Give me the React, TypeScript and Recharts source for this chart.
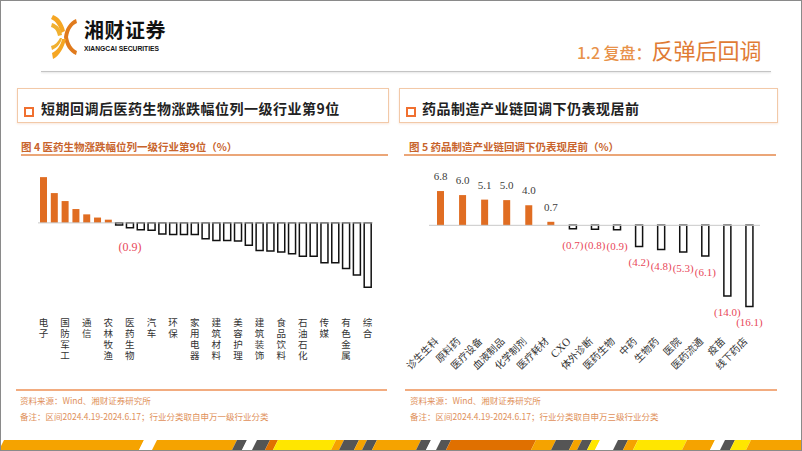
import React from "react";
import { BarChart, Bar, XAxis, YAxis, Cell, LabelList, ReferenceLine } from "recharts";

// 图4：申万一级行业涨跌幅（%），区间 2024.4.19-2024.6.17
const industries = [
  "电子", "公用事业", "国防军工", "银行", "通信", "交通运输", "农林牧渔", "非银金融",
  "医药生物", "基础化工", "汽车", "钢铁", "环保", "机械设备", "家用电器", "电力设备",
  "建筑材料", "轻工制造", "美容护理", "纺织服饰", "建筑装饰", "房地产", "食品饮料", "社会服务",
  "石油石化", "煤炭", "传媒", "商贸零售", "有色金属", "计算机", "综合",
];
const industryChange = [
  8.6, 5.6, 4.1, 2.6, 1.6, 1.0, 0.6, -0.4,
  -0.9, -1.3, -1.4, -2.1, -2.2, -2.2, -2.2, -3.0,
  -3.3, -3.3, -3.4, -4.2, -5.2, -5.3, -5.5, -5.8,
  -6.3, -6.3, -7.5, -7.5, -8.6, -9.8, -12.1,
];
const highlightIndustry = "医药生物";

// 图5：药品制造产业链（申万三级）涨跌幅（%）
const segments = [
  "诊生生科", "原料药", "医疗设备", "血液制品", "化学制剂", "医疗耗材", "CXO", "体外诊断",
  "医药生物", "中药", "生物药", "医院", "医药流通", "疫苗", "线下药店",
];
const segmentChange = [6.8, 6.0, 5.1, 5.0, 4.0, 0.7, -0.7, -0.8, -0.9, -4.2, -4.8, -5.3, -6.1, -14.0, -16.1];

const ORANGE = "#E06D22";
const RED = "#E8485A";
const CJK = "'Noto Sans CJK SC', sans-serif";
const SERIF = "'Liberation Serif', 'Times New Roman', serif";

const leftData = industries.map((name, i) => ({ name, value: industryChange[i] }));
const rightData = segments.map((name, i) => ({ name, value: segmentChange[i] }));

const fmt = (v: number) => (v < 0 ? `(${Math.abs(v).toFixed(1)})` : v.toFixed(1));

// category label written top-to-bottom
function VerticalTick(props: any) {
  const { x, y, payload } = props;
  return (
    <text
      x={x}
      y={y + 18}
      fontSize={9.5}
      fill="#333"
      fontFamily={CJK}
      letterSpacing={1.3}
      style={{ writingMode: "vertical-rl", textOrientation: "upright" } as React.CSSProperties}
    >
      {payload.value}
    </text>
  );
}

function SlantTick(props: any) {
  const { x, y, payload } = props;
  const isLatin = /^[A-Z]+$/.test(payload.value);
  const ax = x - 1;
  const ay = y + 23;
  return (
    <text
      x={ax}
      y={ay}
      textAnchor="end"
      fontSize={isLatin ? 11 : 10}
      fill="#333"
      fontFamily={isLatin ? SERIF : CJK}
      transform={`rotate(-45 ${ax} ${ay})`}
    >
      {payload.value}
    </text>
  );
}

function ValueLabel(props: any) {
  const { x, y, width, height, value } = props;
  const top = Math.min(y, y + height);
  const bottom = Math.max(y, y + height);
  const neg = value < 0;
  return (
    <text
      x={x + width / 2}
      y={neg ? bottom + 20 : top - 11}
      textAnchor="middle"
      fontSize={11}
      fill={neg ? RED : "#404040"}
      fontFamily={SERIF}
    >
      {fmt(value)}
    </text>
  );
}

function HighlightLabel(props: any) {
  const { x, y, width, height, value, index } = props;
  if (leftData[index]?.name !== highlightIndustry) return null;
  const bottom = Math.max(y, y + height);
  return (
    <text x={x + width / 2} y={bottom + 23} textAnchor="middle" fontSize={12} fill={RED} fontFamily={SERIF}>
      {fmt(value)}
    </text>
  );
}

function Logo() {
  return (
    <svg width={30} height={48} style={{ position: "absolute", left: 48, top: 12 }}>
      <path d="M4 2 C10 4 14 10 16 18 L12 20 C10 13 7 8 2 6 Z" fill="#F5A623" />
      <path d="M3 10 C9 12 12 16 13 22 L9 23 C8 18 6 15 2 14 Z" fill="#F0B030" />
      <path d="M27 6 C20 9 16 16 15 24 L19 24 C20 17 23 12 28 10 Z" fill="#E07A1C" />
      <path d="M15 24 C16 32 20 39 27 42 L28 38 C23 36 20 30 19 24 Z" fill="#E07A1C" />
      <path d="M13 26 C12 32 8 38 3 40 L4 46 C10 43 15 35 17 26 Z" fill="#F5A623" />
      <path d="M11 25 C9 29 6 32 2 33 L3 37 C8 35 12 30 13 25 Z" fill="#F0B030" />
    </svg>
  );
}

function Stripe() {
  // decorative band at the bottom of the slide
  const segs: [number, number, string][] = [
    [0, 140, "#F5A300"], [140, 153, "#FFFFFF"], [153, 233, "#F5A300"], [233, 243, "#555"],
    [243, 253, "#FFFFFF"], [253, 266, "#555"], [266, 274, "#E07000"], [274, 332, "#FFE600"],
    [332, 340, "#F5A300"], [340, 355, "#555"], [355, 363, "#F5A300"], [363, 373, "#555"],
    [373, 417, "#F5A300"], [417, 427, "#555"], [427, 437, "#FFFFFF"], [437, 447, "#555"],
    [447, 532, "#E07000"], [532, 552, "#F5A300"], [552, 570, "#555"], [570, 578, "#F5A300"],
    [578, 588, "#555"], [588, 596, "#FFE600"], [596, 614, "#FFFFFF"], [614, 624, "#555"],
    [624, 634, "#F5A300"], [634, 683, "#FFE600"], [683, 711, "#F5A300"], [711, 721, "#FFFFFF"],
    [721, 731, "#555"], [731, 747, "#FFE600"], [747, 810, "#F5A300"],
  ];
  return (
    <svg width={802} height={12} style={{ position: "absolute", left: 0, top: 439 }}>
      {segs.map(([a, b, c], i) => (
        <polygon key={i} points={`${a + 3},0 ${b + 3},0 ${b - 3},12 ${a - 3},12`} fill={c} />
      ))}
    </svg>
  );
}

const boxStyle: React.CSSProperties = {
  position: "absolute",
  top: 87,
  height: 35,
  border: "1px solid #F2C9A8",
  boxShadow: "0 1px 2px rgba(230,160,110,0.25)",
  background: "#fff",
  boxSizing: "border-box",
};

const squareStyle: React.CSSProperties = {
  position: "absolute",
  top: 18,
  width: 10,
  height: 10,
  border: "2.5px solid #F07030",
  boxSizing: "border-box",
};

const sectionText: React.CSSProperties = {
  position: "absolute",
  top: 9,
  fontFamily: CJK,
  fontWeight: 700,
  fontSize: 14,
  lineHeight: "20px",
  letterSpacing: 0.5,
  color: "#222",
  whiteSpace: "nowrap",
};

const figTitle: React.CSSProperties = {
  position: "absolute",
  top: 139,
  fontFamily: CJK,
  fontWeight: 700,
  fontSize: 10.5,
  lineHeight: "14px",
  color: "#C8642C",
  whiteSpace: "nowrap",
};

const noteText: React.CSSProperties = {
  position: "absolute",
  fontFamily: CJK,
  fontSize: 8.5,
  lineHeight: "12px",
  color: "#E0905A",
  whiteSpace: "nowrap",
};

export default function App() {
  return (
    <div
      style={{
        position: "absolute",
        left: 0,
        top: 0,
        width: 802,
        height: 451,
        background: "#fff",
        border: "1px solid #8a8a8a",
        boxSizing: "border-box",
        overflow: "hidden",
      }}
    >
      <Logo />
      <div style={{ position: "absolute", left: 83, top: 19, fontFamily: CJK, fontWeight: 700, fontSize: 20, lineHeight: "20px", color: "#111", letterSpacing: 0.5 }}>
        湘财证券
      </div>
      <div
        style={{
          position: "absolute",
          left: 83,
          top: 44,
          fontFamily: "'Liberation Sans', sans-serif",
          fontWeight: 700,
          fontSize: 8,
          lineHeight: "8px",
          color: "#111",
          transform: "scaleX(0.84)",
          transformOrigin: "left top",
          whiteSpace: "nowrap",
        }}
      >
        XIANGCAI SECURITIES
      </div>
      <div style={{ position: "absolute", left: 576, top: 35, fontFamily: CJK, color: "#E8924A", whiteSpace: "nowrap", lineHeight: "26px" }}>
        <span style={{ fontSize: 16, fontWeight: 500 }}>1.2 复盘：</span>
        <span style={{ fontSize: 22, color: "#E07B35" }}>反弹后回调</span>
      </div>
      <div style={{ position: "absolute", left: 40, top: 70, width: 730, height: 1, background: "#c4c4c4", boxShadow: "0 1px 2px rgba(0,0,0,0.15)" }} />

      <div style={{ ...boxStyle, left: 16, width: 372 }}>
        <div style={{ ...squareStyle, left: 6 }} />
        <div style={{ ...sectionText, left: 23 }}>短期回调后医药生物涨跌幅位列一级行业第9位</div>
      </div>
      <div style={{ ...boxStyle, left: 398, width: 379 }}>
        <div style={{ ...squareStyle, left: 6 }} />
        <div style={{ ...sectionText, left: 22 }}>药品制造产业链回调下仍表现居前</div>
      </div>

      <div style={{ ...figTitle, left: 20 }}>图 4 医药生物涨跌幅位列一级行业第9位（%）</div>
      <div style={{ ...figTitle, left: 408 }}>图 5 药品制造产业链回调下仍表现居前（%）</div>
      <div style={{ position: "absolute", left: 20, top: 153, width: 367, height: 1.5, background: "#EBA678" }} />
      <div style={{ position: "absolute", left: 403, top: 153, width: 372, height: 1.5, background: "#EBA678" }} />

      <div style={{ position: "absolute", left: 0, top: 160 }}>
        <BarChart width={400} height={220} data={leftData} margin={{ top: 14, right: 28, left: 37, bottom: 0 }} barSize={7}>
          <YAxis hide domain={[-13, 9]} />
          <XAxis dataKey="name" interval={1} axisLine={false} tickLine={false} height={89} tick={<VerticalTick />} />
          <ReferenceLine y={0} stroke="#c8c8c8" strokeWidth={1} />
          <Bar dataKey="value" isAnimationActive={false}>
            {leftData.map((d, i) => (
              <Cell
                key={i}
                fill={d.value >= 0 ? ORANGE : "#fff"}
                stroke={d.value >= 0 ? "none" : "#111"}
                strokeWidth={d.value >= 0 ? 0 : 1.5}
              />
            ))}
            <LabelList dataKey="value" content={<HighlightLabel />} />
          </Bar>
        </BarChart>
      </div>

      <div style={{ position: "absolute", left: 400, top: 160 }}>
        <BarChart width={402} height={220} data={rightData} margin={{ top: 24, right: 43, left: 28, bottom: 0 }} barSize={7}>
          <YAxis hide domain={[-17, 8]} />
          <XAxis dataKey="name" interval={0} axisLine={false} tickLine={false} height={70} tick={<SlantTick />} />
          <ReferenceLine y={0} stroke="#c8c8c8" strokeWidth={1} />
          <Bar dataKey="value" isAnimationActive={false}>
            {rightData.map((d, i) => (
              <Cell
                key={i}
                fill={d.value >= 0 ? ORANGE : "#fff"}
                stroke={d.value >= 0 ? "none" : "#111"}
                strokeWidth={d.value >= 0 ? 0 : 1.5}
              />
            ))}
            <LabelList dataKey="value" content={<ValueLabel />} />
          </Bar>
        </BarChart>
      </div>

      <div style={{ position: "absolute", left: 15, top: 388, width: 371, height: 2, background: "#F2AC80" }} />
      <div style={{ position: "absolute", left: 404, top: 388, width: 372, height: 2, background: "#F2AC80" }} />
      <div style={{ ...noteText, left: 19, top: 393 }}>资料来源：Wind、湘财证券研究所</div>
      <div style={{ ...noteText, left: 19, top: 409 }}>备注：区间2024.4.19-2024.6.17；行业分类取自申万一级行业分类</div>
      <div style={{ ...noteText, left: 409, top: 393 }}>资料来源：Wind、湘财证券研究所</div>
      <div style={{ ...noteText, left: 409, top: 409 }}>备注：区间2024.4.19-2024.6.17；行业分类取自申万三级行业分类</div>

      <Stripe />
    </div>
  );
}
